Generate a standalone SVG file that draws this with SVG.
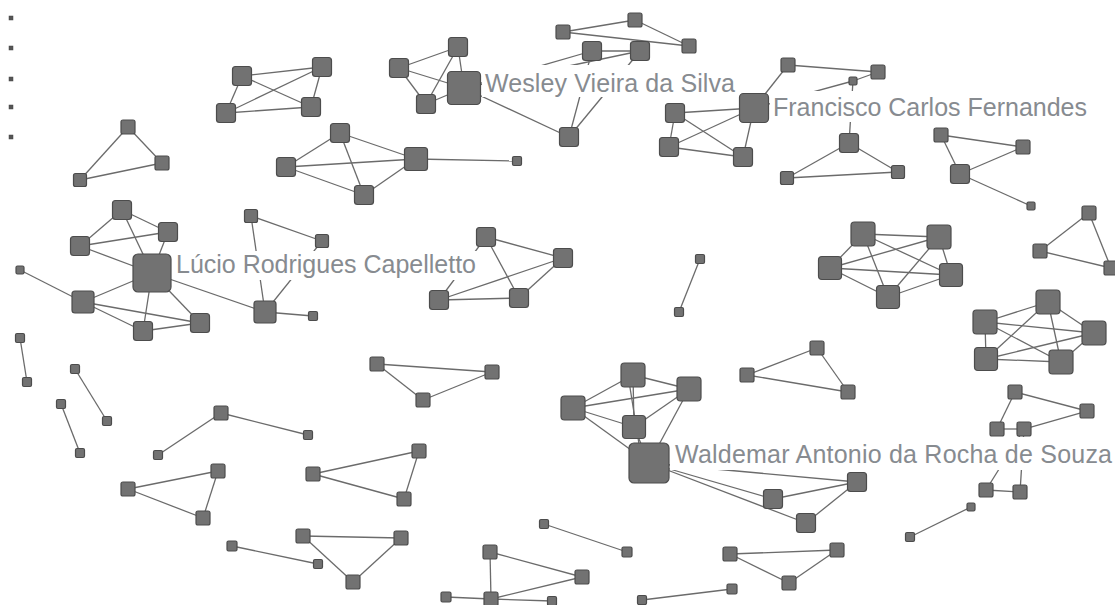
<svg xmlns="http://www.w3.org/2000/svg" width="1115" height="605" viewBox="0 0 1115 605">
<style>
.e line{stroke:#6b6b6b;stroke-width:1.3;fill:none}
.n{fill:#727272;stroke:#4c4c4c;stroke-width:1.2}
.d{fill:#555;stroke:#444;stroke-width:0.5}
.lb{fill:#fff}
.t{font-family:"Liberation Sans",Arial,sans-serif;font-size:25px;fill:#878b90}
</style>
<rect width="1115" height="605" fill="#fff"/>
<g id="connectors" class="e">
<line x1="128" y1="127" x2="162" y2="163"/><line x1="128" y1="127" x2="80" y2="180"/><line x1="80" y1="180" x2="162" y2="163"/>
<line x1="242" y1="76" x2="322" y2="67"/><line x1="242" y1="76" x2="311" y2="107"/><line x1="226" y1="113" x2="322" y2="67"/><line x1="226" y1="113" x2="311" y2="107"/><line x1="242" y1="76" x2="226" y2="113"/><line x1="322" y1="67" x2="311" y2="107"/>
<line x1="340" y1="133" x2="286" y2="167"/><line x1="340" y1="133" x2="416" y2="159"/><line x1="340" y1="133" x2="364" y2="195"/><line x1="286" y1="167" x2="416" y2="159"/><line x1="286" y1="167" x2="364" y2="195"/><line x1="364" y1="195" x2="416" y2="159"/><line x1="416" y1="159" x2="517" y2="161"/>
<line x1="399" y1="68" x2="458" y2="47"/><line x1="399" y1="68" x2="464" y2="88"/><line x1="399" y1="68" x2="426" y2="104"/><line x1="458" y1="47" x2="426" y2="104"/><line x1="458" y1="47" x2="464" y2="88"/><line x1="426" y1="104" x2="464" y2="88"/><line x1="464" y1="88" x2="569" y2="137"/>
<line x1="464" y1="88" x2="592" y2="51"/><line x1="464" y1="88" x2="640" y2="51"/><line x1="569" y1="137" x2="592" y2="51"/><line x1="569" y1="137" x2="640" y2="51"/>
<line x1="563" y1="32" x2="635" y2="20"/><line x1="563" y1="32" x2="689" y2="46"/><line x1="635" y1="20" x2="689" y2="46"/><line x1="592" y1="51" x2="640" y2="51"/>
<line x1="675" y1="113" x2="754" y2="108"/><line x1="675" y1="113" x2="669" y2="147"/><line x1="675" y1="113" x2="743" y2="157"/><line x1="669" y1="147" x2="754" y2="108"/><line x1="669" y1="147" x2="743" y2="157"/><line x1="743" y1="157" x2="754" y2="108"/><line x1="754" y1="108" x2="788" y2="65"/><line x1="788" y1="65" x2="878" y2="72"/><line x1="878" y1="72" x2="853" y2="81"/><line x1="853" y1="81" x2="754" y2="108"/><line x1="853" y1="81" x2="849" y2="143"/><line x1="849" y1="143" x2="787" y2="178"/><line x1="849" y1="143" x2="898" y2="172"/><line x1="787" y1="178" x2="898" y2="172"/>
<line x1="941" y1="135" x2="1023" y2="147"/><line x1="941" y1="135" x2="960" y2="174"/><line x1="960" y1="174" x2="1023" y2="147"/><line x1="960" y1="174" x2="1031" y2="206"/>
<line x1="1089" y1="213" x2="1040" y2="251"/><line x1="1089" y1="213" x2="1111" y2="268"/><line x1="1040" y1="251" x2="1111" y2="268"/>
<line x1="863" y1="234" x2="939" y2="237"/><line x1="863" y1="234" x2="951" y2="275"/><line x1="863" y1="234" x2="888" y2="297"/><line x1="863" y1="234" x2="830" y2="268"/><line x1="939" y1="237" x2="830" y2="268"/><line x1="939" y1="237" x2="888" y2="297"/><line x1="939" y1="237" x2="951" y2="275"/><line x1="951" y1="275" x2="830" y2="268"/><line x1="951" y1="275" x2="888" y2="297"/><line x1="888" y1="297" x2="830" y2="268"/>
<line x1="1048" y1="302" x2="985" y2="322"/><line x1="1048" y1="302" x2="1094" y2="333"/><line x1="1048" y1="302" x2="986" y2="359"/><line x1="1048" y1="302" x2="1061" y2="362"/><line x1="985" y1="322" x2="1094" y2="333"/><line x1="985" y1="322" x2="986" y2="359"/><line x1="985" y1="322" x2="1061" y2="362"/><line x1="1094" y1="333" x2="986" y2="359"/><line x1="1094" y1="333" x2="1061" y2="362"/><line x1="986" y1="359" x2="1061" y2="362"/>
<line x1="1015" y1="392" x2="997" y2="429"/><line x1="1015" y1="392" x2="1087" y2="411"/><line x1="1024" y1="429" x2="1087" y2="411"/><line x1="997" y1="429" x2="1024" y2="429"/><line x1="1024" y1="429" x2="986" y2="490"/><line x1="1024" y1="429" x2="1020" y2="492"/><line x1="986" y1="490" x2="1020" y2="492"/><line x1="971" y1="507" x2="910" y2="537"/>
<line x1="573" y1="408" x2="633" y2="375"/><line x1="573" y1="408" x2="689" y2="389"/><line x1="573" y1="408" x2="634" y2="427"/><line x1="573" y1="408" x2="649" y2="463"/><line x1="633" y1="375" x2="689" y2="389"/><line x1="633" y1="375" x2="634" y2="427"/><line x1="628" y1="375" x2="642" y2="463"/><line x1="689" y1="389" x2="634" y2="427"/><line x1="689" y1="389" x2="649" y2="463"/><line x1="634" y1="427" x2="649" y2="463"/><line x1="649" y1="463" x2="773" y2="499"/><line x1="649" y1="463" x2="806" y2="523"/><line x1="649" y1="463" x2="857" y2="482"/><line x1="773" y1="499" x2="857" y2="482"/><line x1="806" y1="523" x2="857" y2="482"/>
<line x1="817" y1="348" x2="747" y2="375"/><line x1="747" y1="375" x2="848" y2="392"/><line x1="817" y1="348" x2="848" y2="392"/>
<line x1="700" y1="259" x2="679" y2="312"/>
<line x1="122" y1="210" x2="168" y2="232"/><line x1="122" y1="210" x2="80" y2="246"/><line x1="122" y1="210" x2="152" y2="273"/><line x1="168" y1="232" x2="80" y2="246"/><line x1="168" y1="232" x2="152" y2="273"/><line x1="80" y1="246" x2="152" y2="273"/><line x1="152" y1="273" x2="83" y2="302"/><line x1="152" y1="273" x2="143" y2="331"/><line x1="152" y1="273" x2="200" y2="323"/><line x1="152" y1="273" x2="265" y2="312"/><line x1="83" y1="302" x2="143" y2="331"/><line x1="83" y1="302" x2="200" y2="323"/><line x1="143" y1="331" x2="200" y2="323"/><line x1="83" y1="302" x2="20" y2="270"/><line x1="251" y1="216" x2="322" y2="241"/><line x1="251" y1="216" x2="265" y2="312"/><line x1="265" y1="312" x2="313" y2="316"/><line x1="265" y1="312" x2="322" y2="241"/>
<line x1="486" y1="237" x2="563" y2="258"/><line x1="486" y1="237" x2="519" y2="298"/><line x1="439" y1="300" x2="563" y2="258"/><line x1="439" y1="300" x2="519" y2="298"/><line x1="519" y1="298" x2="563" y2="258"/><line x1="439" y1="300" x2="486" y2="237"/>
<line x1="377" y1="364" x2="492" y2="372"/><line x1="377" y1="364" x2="423" y2="400"/><line x1="423" y1="400" x2="492" y2="372"/>
<line x1="20" y1="338" x2="27" y2="382"/><line x1="75" y1="369" x2="107" y2="421"/><line x1="61" y1="404" x2="80" y2="453"/><line x1="221" y1="413" x2="158" y2="455"/><line x1="221" y1="413" x2="308" y2="435"/>
<line x1="128" y1="489" x2="218" y2="471"/><line x1="128" y1="489" x2="203" y2="518"/><line x1="203" y1="518" x2="218" y2="471"/>
<line x1="313" y1="474" x2="419" y2="451"/><line x1="313" y1="474" x2="404" y2="499"/><line x1="404" y1="499" x2="419" y2="451"/>
<line x1="232" y1="546" x2="318" y2="564"/><line x1="303" y1="536" x2="401" y2="538"/><line x1="303" y1="536" x2="353" y2="582"/><line x1="353" y1="582" x2="401" y2="538"/>
<line x1="490" y1="552" x2="491" y2="599"/><line x1="490" y1="552" x2="582" y2="577"/><line x1="491" y1="599" x2="582" y2="577"/><line x1="446" y1="597" x2="491" y2="599"/><line x1="491" y1="599" x2="552" y2="601"/><line x1="544" y1="524" x2="627" y2="552"/>
<line x1="730" y1="554" x2="837" y2="550"/><line x1="730" y1="554" x2="789" y2="583"/><line x1="789" y1="583" x2="837" y2="550"/><line x1="642" y1="600" x2="732" y2="589"/>
</g>
<g id="dots"><rect class="d" x="9" y="16" width="4" height="4"/><rect class="d" x="9" y="46" width="4" height="4"/><rect class="d" x="9" y="77" width="4" height="4"/><rect class="d" x="9" y="105" width="4" height="4"/><rect class="d" x="9" y="135" width="4" height="4"/></g>
<g id="a1"><rect class="n" x="121" y="120" width="14" height="14" rx="2"/></g>
<g id="a2"><rect class="n" x="155" y="156" width="14" height="14" rx="2"/></g>
<g id="a3"><rect class="n" x="73.5" y="173.5" width="13" height="13" rx="2"/></g>
<g id="b1"><rect class="n" x="232.5" y="66.5" width="19" height="19" rx="3"/></g>
<g id="b2"><rect class="n" x="312.5" y="57.5" width="19" height="19" rx="3"/></g>
<g id="b3"><rect class="n" x="301.5" y="97.5" width="19" height="19" rx="3"/></g>
<g id="b4"><rect class="n" x="216.5" y="103.5" width="19" height="19" rx="3"/></g>
<g id="r1"><rect class="n" x="330.5" y="123.5" width="19" height="19" rx="3"/></g>
<g id="r2"><rect class="n" x="276.5" y="157.5" width="19" height="19" rx="3"/></g>
<g id="r3"><rect class="n" x="354.5" y="185.5" width="19" height="19" rx="3"/></g>
<g id="r4"><rect class="n" x="404.5" y="147.5" width="23" height="23" rx="3"/></g>
<g id="r5"><rect class="n" x="512.5" y="156.5" width="9" height="9" rx="1.5"/></g>
<g id="c1"><rect class="n" x="389.5" y="58.5" width="19" height="19" rx="3"/></g>
<g id="c2"><rect class="n" x="448.5" y="37.5" width="19" height="19" rx="3"/></g>
<g id="c3"><rect class="n" x="416.5" y="94.5" width="19" height="19" rx="3"/></g>
<g id="c4"><rect class="lb" x="482" y="65" width="256" height="32"/><rect class="n" x="447.5" y="71.5" width="33" height="33" rx="4"/><text class="t" x="485" y="92" textLength="250">Wesley Vieira da Silva</text></g>
<g id="c5"><rect class="n" x="559.5" y="127.5" width="19" height="19" rx="3"/></g>
<g id="e1"><rect class="n" x="556" y="25" width="14" height="14" rx="2"/></g>
<g id="e2"><rect class="n" x="628" y="13" width="14" height="14" rx="2"/></g>
<g id="e3"><rect class="n" x="682" y="39" width="14" height="14" rx="2"/></g>
<g id="e4"><rect class="n" x="582.5" y="41.5" width="19" height="19" rx="3"/></g>
<g id="e5"><rect class="n" x="630.5" y="41.5" width="19" height="19" rx="3"/></g>
<g id="f1"><rect class="n" x="665.5" y="103.5" width="19" height="19" rx="3"/></g>
<g id="f2"><rect class="n" x="659.5" y="137.5" width="19" height="19" rx="3"/></g>
<g id="f3"><rect class="n" x="733.5" y="147.5" width="19" height="19" rx="3"/></g>
<g id="f4"><rect class="lb" x="770" y="91" width="322" height="31"/><rect class="n" x="739.5" y="93.5" width="29" height="29" rx="4"/><text class="t" x="773" y="116" textLength="314">Francisco Carlos Fernandes</text></g>
<g id="f5"><rect class="n" x="781" y="58" width="14" height="14" rx="2"/></g>
<g id="f6"><rect class="n" x="871" y="65" width="14" height="14" rx="2"/></g>
<g id="f7"><rect class="n" x="849" y="77" width="8" height="8" rx="1.5"/></g>
<g id="f8"><rect class="n" x="839.5" y="133.5" width="19" height="19" rx="3"/></g>
<g id="f9"><rect class="n" x="780.5" y="171.5" width="13" height="13" rx="2"/></g>
<g id="f10"><rect class="n" x="891.5" y="165.5" width="13" height="13" rx="2"/></g>
<g id="g1"><rect class="n" x="934" y="128" width="14" height="14" rx="2"/></g>
<g id="g2"><rect class="n" x="1016" y="140" width="14" height="14" rx="2"/></g>
<g id="g3"><rect class="n" x="950.5" y="164.5" width="19" height="19" rx="3"/></g>
<g id="g4"><rect class="n" x="1027" y="202" width="8" height="8" rx="1.5"/></g>
<g id="h1"><rect class="n" x="1082" y="206" width="14" height="14" rx="2"/></g>
<g id="h2"><rect class="n" x="1033" y="244" width="14" height="14" rx="2"/></g>
<g id="h3"><rect class="n" x="1104" y="261" width="14" height="14" rx="2"/></g>
<g id="i1"><rect class="n" x="851" y="222" width="24" height="24" rx="3.5"/></g>
<g id="i2"><rect class="n" x="927" y="225" width="24" height="24" rx="3.5"/></g>
<g id="i3"><rect class="n" x="939.5" y="263.5" width="23" height="23" rx="3.5"/></g>
<g id="i4"><rect class="n" x="876.5" y="285.5" width="23" height="23" rx="3.5"/></g>
<g id="i5"><rect class="n" x="818.5" y="256.5" width="23" height="23" rx="3.5"/></g>
<g id="j1"><rect class="n" x="1036" y="290" width="24" height="24" rx="3.5"/></g>
<g id="j2"><rect class="n" x="973" y="310" width="24" height="24" rx="3.5"/></g>
<g id="j3"><rect class="n" x="1082" y="321" width="24" height="24" rx="3.5"/></g>
<g id="j4"><rect class="n" x="974.5" y="347.5" width="23" height="23" rx="3.5"/></g>
<g id="j5"><rect class="n" x="1049" y="350" width="24" height="24" rx="3.5"/></g>
<g id="k1"><rect class="n" x="1008" y="385" width="14" height="14" rx="2"/></g>
<g id="k2"><rect class="n" x="1080" y="404" width="14" height="14" rx="2"/></g>
<g id="k3"><rect class="n" x="990" y="422" width="14" height="14" rx="2"/></g>
<g id="k4"><rect class="n" x="1017" y="422" width="14" height="14" rx="2"/></g>
<g id="k5"><rect class="n" x="979" y="483" width="14" height="14" rx="2"/></g>
<g id="k6"><rect class="n" x="1013" y="485" width="14" height="14" rx="2"/></g>
<g id="k7"><rect class="n" x="967" y="503" width="8" height="8" rx="1.5"/></g>
<g id="k8"><rect class="n" x="905.5" y="532.5" width="9" height="9" rx="1.5"/></g>
<g id="w1"><rect class="n" x="621" y="363" width="24" height="24" rx="3.5"/></g>
<g id="w2"><rect class="n" x="677" y="377" width="24" height="24" rx="3.5"/></g>
<g id="w3"><rect class="n" x="561" y="396" width="24" height="24" rx="3.5"/></g>
<g id="w4"><rect class="n" x="622.5" y="415.5" width="23" height="23" rx="3.5"/></g>
<g id="w5"><rect class="lb" x="670" y="437" width="445" height="33"/><rect class="n" x="629" y="443" width="40" height="40" rx="5"/><text class="t" x="675" y="463" textLength="437">Waldemar Antonio da Rocha de Souza</text></g>
<g id="w6"><rect class="n" x="763.5" y="489.5" width="19" height="19" rx="3"/></g>
<g id="w7"><rect class="n" x="796.5" y="513.5" width="19" height="19" rx="3"/></g>
<g id="w8"><rect class="n" x="847.5" y="472.5" width="19" height="19" rx="3"/></g>
<g id="l1"><rect class="n" x="810" y="341" width="14" height="14" rx="2"/></g>
<g id="l2"><rect class="n" x="740" y="368" width="14" height="14" rx="2"/></g>
<g id="l3"><rect class="n" x="841" y="385" width="14" height="14" rx="2"/></g>
<g id="m1"><rect class="n" x="695.5" y="254.5" width="9" height="9" rx="1.5"/></g>
<g id="m2"><rect class="n" x="674.5" y="307.5" width="9" height="9" rx="1.5"/></g>
<g id="n1"><rect class="n" x="112.5" y="200.5" width="19" height="19" rx="3"/></g>
<g id="n2"><rect class="n" x="158.5" y="222.5" width="19" height="19" rx="3"/></g>
<g id="n3"><rect class="n" x="70.5" y="236.5" width="19" height="19" rx="3"/></g>
<g id="n4"><rect class="lb" x="174" y="251" width="305" height="29"/><rect class="n" x="133" y="254" width="38" height="38" rx="5"/><text class="t" x="176" y="273" textLength="300">Lúcio Rodrigues Capelletto</text></g>
<g id="n5"><rect class="n" x="72" y="291" width="22" height="22" rx="3"/></g>
<g id="n6"><rect class="n" x="133.5" y="321.5" width="19" height="19" rx="3"/></g>
<g id="n7"><rect class="n" x="190.5" y="313.5" width="19" height="19" rx="3"/></g>
<g id="n8"><rect class="n" x="16" y="266" width="8" height="8" rx="1.5"/></g>
<g id="n9"><rect class="n" x="254" y="301" width="22" height="22" rx="3"/></g>
<g id="n10"><rect class="n" x="244.5" y="209.5" width="13" height="13" rx="2"/></g>
<g id="n11"><rect class="n" x="315.5" y="234.5" width="13" height="13" rx="2"/></g>
<g id="n12"><rect class="n" x="308.5" y="311.5" width="9" height="9" rx="1.5"/></g>
<g id="o1"><rect class="n" x="476.5" y="227.5" width="19" height="19" rx="3"/></g>
<g id="o2"><rect class="n" x="553.5" y="248.5" width="19" height="19" rx="3"/></g>
<g id="o3"><rect class="n" x="429.5" y="290.5" width="19" height="19" rx="3"/></g>
<g id="o4"><rect class="n" x="509.5" y="288.5" width="19" height="19" rx="3"/></g>
<g id="p1"><rect class="n" x="370" y="357" width="14" height="14" rx="2"/></g>
<g id="p2"><rect class="n" x="485" y="365" width="14" height="14" rx="2"/></g>
<g id="p3"><rect class="n" x="416" y="393" width="14" height="14" rx="2"/></g>
<g id="q1"><rect class="n" x="15.5" y="333.5" width="9" height="9" rx="1.5"/></g>
<g id="q2"><rect class="n" x="22.5" y="377.5" width="9" height="9" rx="1.5"/></g>
<g id="q3"><rect class="n" x="70.5" y="364.5" width="9" height="9" rx="1.5"/></g>
<g id="q4"><rect class="n" x="102.5" y="416.5" width="9" height="9" rx="1.5"/></g>
<g id="q5"><rect class="n" x="56.5" y="399.5" width="9" height="9" rx="1.5"/></g>
<g id="q6"><rect class="n" x="75.5" y="448.5" width="9" height="9" rx="1.5"/></g>
<g id="q7"><rect class="n" x="214" y="406" width="14" height="14" rx="2"/></g>
<g id="q8"><rect class="n" x="153.5" y="450.5" width="9" height="9" rx="1.5"/></g>
<g id="q9"><rect class="n" x="303.5" y="430.5" width="9" height="9" rx="1.5"/></g>
<g id="t1"><rect class="n" x="121" y="482" width="14" height="14" rx="2"/></g>
<g id="t2"><rect class="n" x="211" y="464" width="14" height="14" rx="2"/></g>
<g id="t3"><rect class="n" x="196" y="511" width="14" height="14" rx="2"/></g>
<g id="u1"><rect class="n" x="306" y="467" width="14" height="14" rx="2"/></g>
<g id="u2"><rect class="n" x="412" y="444" width="14" height="14" rx="2"/></g>
<g id="u3"><rect class="n" x="397" y="492" width="14" height="14" rx="2"/></g>
<g id="v1"><rect class="n" x="227" y="541" width="10" height="10" rx="1.5"/></g>
<g id="v2"><rect class="n" x="313.5" y="559.5" width="9" height="9" rx="1.5"/></g>
<g id="v3"><rect class="n" x="296" y="529" width="14" height="14" rx="2"/></g>
<g id="v4"><rect class="n" x="394" y="531" width="14" height="14" rx="2"/></g>
<g id="v5"><rect class="n" x="346" y="575" width="14" height="14" rx="2"/></g>
<g id="x1"><rect class="n" x="483" y="545" width="14" height="14" rx="2"/></g>
<g id="x2"><rect class="n" x="484" y="592" width="14" height="14" rx="2"/></g>
<g id="x3"><rect class="n" x="441" y="592" width="10" height="10" rx="1.5"/></g>
<g id="x4"><rect class="n" x="575" y="570" width="14" height="14" rx="2"/></g>
<g id="x5"><rect class="n" x="547.5" y="596.5" width="9" height="9" rx="1.5"/></g>
<g id="x6"><rect class="n" x="539.5" y="519.5" width="9" height="9" rx="1.5"/></g>
<g id="x7"><rect class="n" x="622" y="547" width="10" height="10" rx="1.5"/></g>
<g id="y1"><rect class="n" x="723" y="547" width="14" height="14" rx="2"/></g>
<g id="y2"><rect class="n" x="830" y="543" width="14" height="14" rx="2"/></g>
<g id="y3"><rect class="n" x="782" y="576" width="14" height="14" rx="2"/></g>
<g id="y4"><rect class="n" x="727" y="584" width="10" height="10" rx="1.5"/></g>
<g id="y5"><rect class="n" x="637.5" y="595.5" width="9" height="9" rx="1.5"/></g>
</svg>
